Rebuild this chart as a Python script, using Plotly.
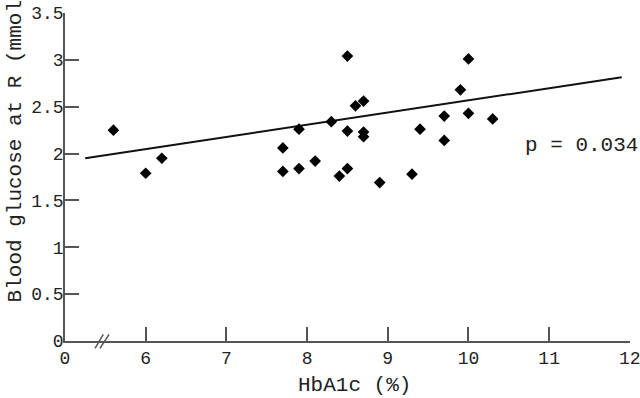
import plotly.graph_objects as go

# Data
hba1c = [5.6, 6.0, 6.2, 7.7, 7.7, 7.9, 7.9, 8.1, 8.3, 8.4, 8.5, 8.5, 8.5, 8.6,
         8.7, 8.7, 8.7, 8.9, 9.3, 9.4, 9.7, 9.7, 9.9, 10.0, 10.0, 10.3]
glucose = [2.25, 1.79, 1.95, 2.06, 1.81, 2.26, 1.84, 1.92, 2.34, 1.76, 3.04, 2.24, 1.84, 2.51,
           2.56, 2.23, 2.18, 1.69, 1.78, 2.26, 2.40, 2.14, 2.68, 3.01, 2.43, 2.37]
fit_x = [5.25, 11.9]
fit_y = [1.95, 2.815]

x_tickvals = [5, 6, 7, 8, 9, 10, 11, 12]
x_ticktext = ["0", "6", "7", "8", "9", "10", "11", "12"]
y_tickvals = [0, 0.5, 1, 1.5, 2, 2.5, 3, 3.5]
y_ticktext = ["0", "0.5", "1", "1.5", "2", "2.5", "3", "3.5"]

FONT = "Liberation Mono, Courier New, monospace"
AX = "#555555"
TXT = "#222222"

fig = go.Figure()
fig.add_trace(go.Scatter(x=fit_x, y=fit_y, mode="lines",
                         line=dict(color="#111111", width=2), showlegend=False))
fig.add_trace(go.Scatter(x=hba1c, y=glucose, mode="markers",
                         marker=dict(symbol="diamond", size=9, color="#000000"),
                         showlegend=False, cliponaxis=False))

fig.update_layout(
    template="none",
    width=640, height=398,
    margin=dict(l=65, r=10, t=13, b=57, autoexpand=False),
    paper_bgcolor="white", plot_bgcolor="white",
    font=dict(family=FONT, size=18, color=TXT),
    xaxis=dict(range=[4.9999, 12.002], tickvals=x_tickvals, ticktext=x_ticktext,
               automargin=False, ticklabeloverflow="allow",
               showgrid=False, zeroline=False, showline=True, linecolor=AX, linewidth=1.5,
               ticks="inside", ticklen=14, tickcolor=AX, tickwidth=1.5,
               tickfont=dict(family=FONT, size=18, color=TXT)),
    yaxis=dict(range=[-0.0001, 3.5001], tickvals=y_tickvals, ticktext=y_ticktext,
               automargin=False, ticklabelstandoff=-4,
               showgrid=False, zeroline=False, showline=True, linecolor=AX, linewidth=1.5,
               ticks="inside", ticklen=14, tickcolor=AX, tickwidth=1.5,
               tickfont=dict(family=FONT, size=18, color=TXT)),
    annotations=[
        dict(text="HbA1c (%)", xref="paper", yref="paper", x=0.513, y=-0.137,
             xanchor="center", yanchor="middle", showarrow=False,
             font=dict(family=FONT, size=21, color=TXT)),
        dict(text="Blood glucose at R (mmol", xref="paper", yref="paper",
             x=-0.1115, y=0.11, xanchor="left", yanchor="bottom", textangle=-90,
             showarrow=False, font=dict(family=FONT, size=21, color=TXT)),
        dict(text="p = 0.034", xref="x", yref="y", x=11.40, y=2.09,
             xanchor="center", yanchor="middle", showarrow=False,
             font=dict(family=FONT, size=21, color=TXT)),
    ],
    shapes=[
        dict(type="line", xref="paper", yref="paper", x0=0.0531, y0=-0.0223, x1=0.0678, y1=0.0204,
             line=dict(color=AX, width=1.5)),
        dict(type="line", xref="paper", yref="paper", x0=0.0619, y0=-0.0223, x1=0.0779, y1=0.0204,
             line=dict(color=AX, width=1.5)),
    ],
)

fig.write_html("out.html", config={"displayModeBar": False},
               post_script="document.body.style.margin='0';document.body.style.overflow='hidden';")
